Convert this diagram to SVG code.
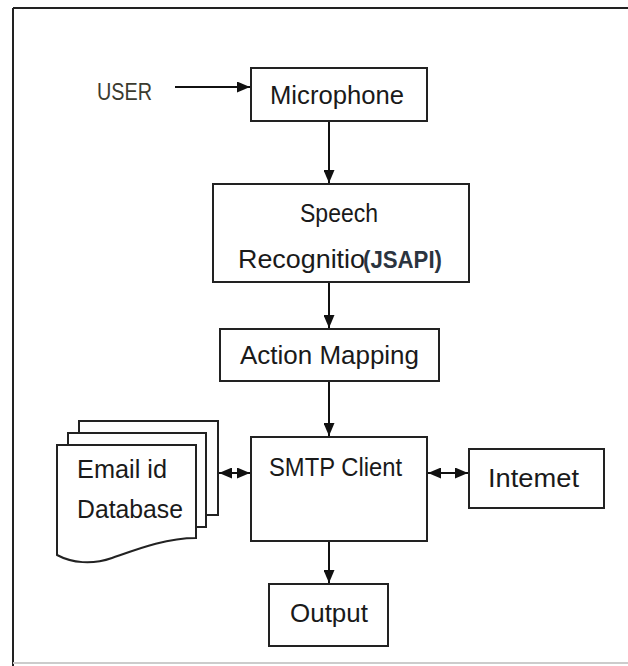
<svg xmlns="http://www.w3.org/2000/svg" width="628" height="666" viewBox="0 0 628 666">
<defs>
<marker id="ah" viewBox="0 0 13 11" refX="13" refY="5.5" markerWidth="13" markerHeight="11" markerUnits="userSpaceOnUse" orient="auto-start-reverse">
<path d="M0,0 L13,5.5 L0,11 Z" fill="#111"/>
</marker>
<style>
.box{fill:#fff;stroke:#222;stroke-width:2}
.lbl{font-family:"Liberation Sans",Arial,sans-serif;font-size:25px;fill:#1a1a1a}
.con{stroke:#111;stroke-width:2;fill:none}
</style>
</defs>
<rect width="628" height="666" fill="#fff"/>
<g id="frame">
<line x1="13" y1="8" x2="628" y2="8" stroke="#222" stroke-width="2"/>
<line x1="13" y1="8" x2="13" y2="666" stroke="#222" stroke-width="2"/>
<line x1="13" y1="663" x2="628" y2="663" stroke="#ccc" stroke-width="2"/>
</g>
<g id="user">
<text x="97" y="100" font-family="Liberation Sans, Arial, sans-serif" font-size="24" fill="#3b3b2e" textLength="55" lengthAdjust="spacingAndGlyphs">USER</text>
</g>
<g id="microphone">
<rect class="box" x="251" y="68" width="176" height="53"/>
<text class="lbl" x="270" y="104" textLength="134" lengthAdjust="spacingAndGlyphs">Microphone</text>
</g>
<g id="speech">
<rect class="box" x="213" y="184" width="256" height="98"/>
<text class="lbl" x="300" y="222" textLength="78" lengthAdjust="spacingAndGlyphs">Speech</text>
<text class="lbl" x="238" y="268" textLength="127" lengthAdjust="spacingAndGlyphs">Recognitio</text>
<text x="363" y="268" font-family="Liberation Sans, Arial, sans-serif" font-size="24" font-weight="bold" fill="#2b3440" textLength="79" lengthAdjust="spacingAndGlyphs">(JSAPI)</text>
</g>
<g id="action">
<rect class="box" x="220" y="329" width="219" height="52"/>
<text class="lbl" x="240" y="364" textLength="179" lengthAdjust="spacingAndGlyphs">Action Mapping</text>
</g>
<g id="smtp">
<rect class="box" x="251" y="437" width="176" height="104"/>
<text class="lbl" x="269" y="476" textLength="133" lengthAdjust="spacingAndGlyphs">SMTP Client</text>
</g>
<g id="internet">
<rect class="box" x="469" y="449" width="135" height="59"/>
<text class="lbl" x="488" y="487" textLength="91" lengthAdjust="spacingAndGlyphs">Intemet</text>
</g>
<g id="output">
<rect class="box" x="269" y="584" width="119" height="62"/>
<text class="lbl" x="290" y="622" textLength="78" lengthAdjust="spacingAndGlyphs">Output</text>
</g>
<g id="database">
<rect class="box" x="79" y="421" width="139" height="94"/>
<rect class="box" x="68" y="433" width="138" height="94"/>
<path class="box" d="M57,445 H196 V538 C165,538 135,550 112,558 C92,565 72,563 57,555 Z"/>
<text class="lbl" x="77" y="478" textLength="90" lengthAdjust="spacingAndGlyphs">Email id</text>
<text class="lbl" x="77" y="518" textLength="106" lengthAdjust="spacingAndGlyphs">Database</text>
</g>
<g id="connectors">
<line class="con" x1="175" y1="87" x2="250" y2="87" marker-end="url(#ah)"/>
<line class="con" x1="329" y1="122" x2="329" y2="183" marker-end="url(#ah)"/>
<line class="con" x1="329" y1="283" x2="329" y2="328" marker-end="url(#ah)"/>
<line class="con" x1="329" y1="382" x2="329" y2="436" marker-end="url(#ah)"/>
<line class="con" x1="329" y1="542" x2="329" y2="583" marker-end="url(#ah)"/>
<line class="con" x1="219" y1="473" x2="250" y2="473" marker-start="url(#ah)" marker-end="url(#ah)"/>
<line class="con" x1="428" y1="473" x2="468" y2="473" marker-start="url(#ah)" marker-end="url(#ah)"/>
</g>
</svg>
